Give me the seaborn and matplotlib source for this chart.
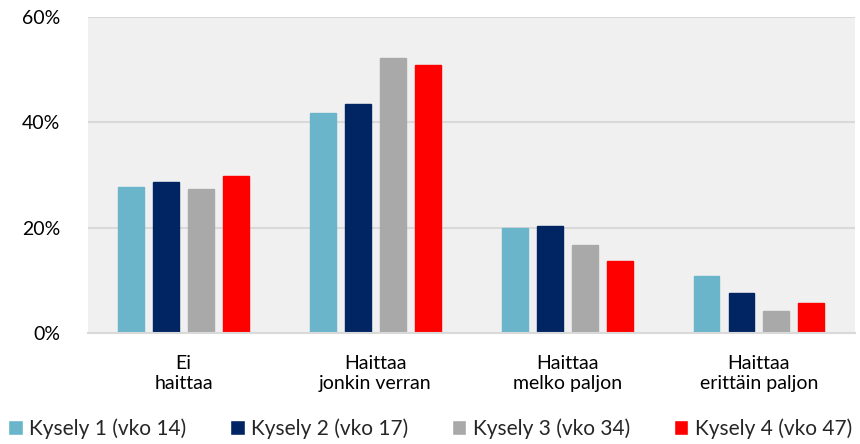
import pandas as pd
import seaborn as sns
import matplotlib.pyplot as plt
from matplotlib.ticker import PercentFormatter

# data
categories = ['Ei\nhaittaa', 'Haittaa\njonkin verran', 'Haittaa\nmelko paljon', 'Haittaa\nerittäin paljon']
series = ['Kysely 1 (vko 14)', 'Kysely 2 (vko 17)', 'Kysely 3 (vko 34)', 'Kysely 4 (vko 47)']
kysely1 = [27.7, 41.7, 20.0, 10.8]
kysely2 = [28.6, 43.4, 20.4, 7.6]
kysely3 = [27.3, 52.1, 16.7, 4.1]
kysely4 = [29.8, 50.9, 13.6, 5.7]
colors = ['#6BB5CA', '#002562', '#A9A9A9', '#FF0000']

rows = []
for name, vals in zip(series, [kysely1, kysely2, kysely3, kysely4]):
    for cat, v in zip(categories, vals):
        rows.append({'kategoria': cat, 'kysely': name, 'osuus': v / 100})
df = pd.DataFrame(rows)

sns.set_theme(style='white')
plt.rcParams['font.family'] = ['Lato', 'DejaVu Sans']

fig = plt.figure(figsize=(8.6, 4.44), dpi=100)
ax = fig.add_axes([0.102, 0.25, 0.892, 0.712])
ax.set_facecolor('#F0F0F0')

sns.barplot(data=df, x='kategoria', y='osuus', hue='kysely', palette=colors,
            width=0.73, gap=0.26, ax=ax, legend=True, linewidth=1,
            edgecolor='white', saturation=1)
for patch, col in zip(ax.patches, [c for c in colors for _ in categories]):
    patch.set_edgecolor(col)
    patch.set_alpha(1)

ax.set_ylim(0, 0.6)
ax.set_yticks([0, 0.2, 0.4, 0.6])
ax.yaxis.set_major_formatter(PercentFormatter(1.0, decimals=0))
ax.grid(axis='y', color='#D9D9D9', linewidth=1.5)
ax.set_axisbelow(True)
for s in ['top', 'right', 'left']:
    ax.spines[s].set_visible(False)
ax.spines['bottom'].set_color('#D9D9D9')
ax.spines['bottom'].set_linewidth(1.5)
ax.tick_params(axis='both', length=0, labelsize=14, colors='black')
ax.tick_params(axis='x', pad=16)
ax.tick_params(axis='y', pad=20)
ax.set_xlabel('')
ax.set_ylabel('')

handles, labels = ax.get_legend_handles_labels()
ax.get_legend().remove()
fig.legend(handles, labels, loc='lower center', bbox_to_anchor=(0.5, -0.03),
           ncol=4, frameon=False, fontsize=15, handlelength=0.7, handleheight=0.7,
           handletextpad=0.3, columnspacing=2.1)

fig.savefig('out.png', dpi=100)
